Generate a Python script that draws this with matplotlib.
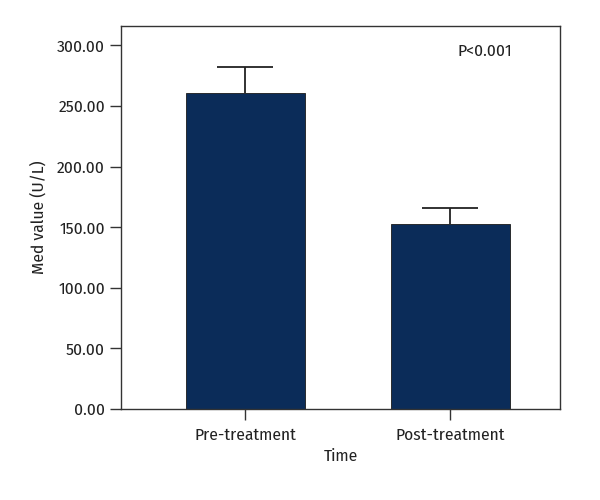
import matplotlib.pyplot as plt
from matplotlib import font_manager

# data
groups = ['Pre-treatment', 'Post-treatment']
means = [261.0, 153.0]
errs = [21.0, 12.5]
ylabel = 'Med value (U/L)'
xlabel = 'Time'
ptext = 'P<0.001'

# condensed humanist face, close to the reference
fp = font_manager.FontProperties(family=['Fira Sans Condensed', 'DejaVu Sans'], size=12.5)

fig = plt.figure(figsize=(6, 5), dpi=100)
ax = fig.add_axes([0.2017, 0.182, 0.7313, 0.766])

x = range(len(groups))
ax.bar(x, means, width=0.58, color='#0b2c59', edgecolor='#1a1a1a', linewidth=0.6, zorder=2)
eb = ax.errorbar(x, means, yerr=[[0, 0], errs], fmt='none', ecolor='#222222',
                 elinewidth=1.3, capsize=20, capthick=1.3, zorder=1)
eb[1][0].set_visible(False)  # only the upper cap

ax.set_xlim(-0.607, 1.534)
ax.set_ylim(0, 316)
ax.set_yticks([0, 50, 100, 150, 200, 250, 300])
ax.set_yticklabels([f'{v:.2f}' for v in [0, 50, 100, 150, 200, 250, 300]], fontproperties=fp)
ax.set_xticks(list(x))
ax.set_xticklabels(groups, fontproperties=fp)
ax.tick_params(axis='both', direction='out', length=8, width=1, color='#333333', labelcolor='#222222')
ax.tick_params(axis='x', pad=5)
for s in ax.spines.values():
    s.set_color('#333333')
    s.set_linewidth(1)

ax.set_ylabel(ylabel, fontproperties=fp, color='#222222', labelpad=7)
ax.set_xlabel(xlabel, fontproperties=fp, color='#222222', labelpad=4)
ax.text(1.17, 295, ptext, ha='center', va='center', fontproperties=fp, color='#222222')

fig.savefig('out.png', dpi=100)
